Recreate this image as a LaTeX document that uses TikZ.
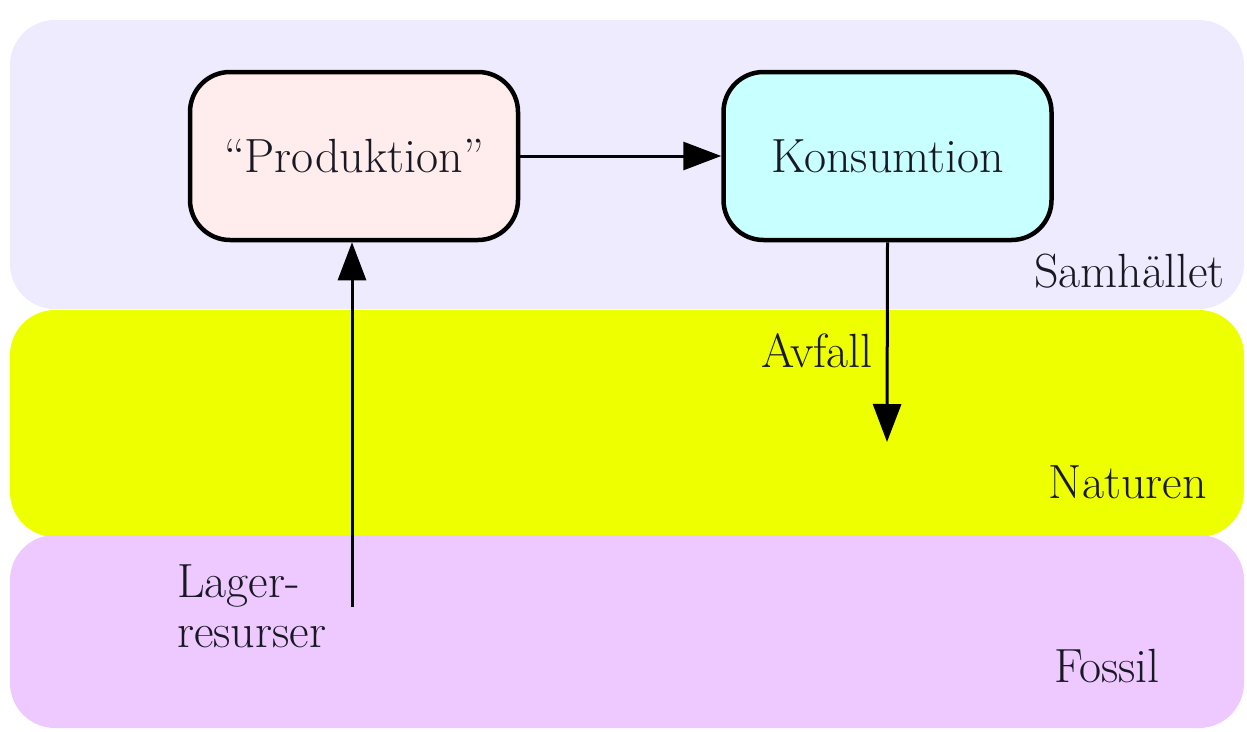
\documentclass[tikz,border=0pt]{standalone}
\usepackage{fontspec}
\usetikzlibrary{arrows.meta}
\definecolor{samcol}{RGB}{238,235,255}
\definecolor{natcol}{RGB}{238,255,0}
\definecolor{foscol}{RGB}{238,201,255}
\definecolor{prodcol}{RGB}{255,236,236}
\definecolor{konscol}{RGB}{200,255,255}
\definecolor{txtcol}{RGB}{25,25,35}
\tikzset{
  band/.style={rounded corners=45pt},
  procbox/.style={draw=black, line width=4.5pt, rounded corners=40pt, minimum width=328pt, minimum height=168pt, inner sep=0pt, font=\fontsize{48}{56}\selectfont, text=txtcol},
  lbl/.style={inner sep=0pt, font=\fontsize{48}{56}\selectfont, text=txtcol},
  arr/.style={line width=3pt, -{Triangle[length=38pt,width=28pt]}}
}
\begin{document}
\begin{tikzpicture}[x=1pt,y=-1pt]
\useasboundingbox (0,0) rectangle (1247,731);
% bands
\fill[samcol, band] (10,20) rectangle (1244,309);
\fill[natcol, band] (10,310) rectangle (1244,537);
\fill[foscol, band] (10,535) rectangle (1244,728);
% boxes
\node[procbox, fill=prodcol] (prod) at (354,156) {“Produktion”};
\node[procbox, fill=konscol] (kons) at (887.5,156) {Konsumtion};
% labels
\node[lbl, anchor=base east] (sam) at (1225,287) {Samhället};
\node[lbl, anchor=base east] (avf) at (873,367) {Avfall};
\node[lbl, anchor=base east] (nat) at (1207,498) {Naturen};
\node[lbl, anchor=base east] (fos) at (1160,682) {Fossil};
\node[lbl, anchor=base west] (lag1) at (177,597) {Lager-};
\node[lbl, anchor=base west] (lag2) at (177,647) {resurser};
% connectors
\coordinate (lagbot) at (352,607);
\coordinate (avend) at (887,442);
\draw[arr] (prod.east) -- (kons.west);
\draw[arr] (lagbot) -- (lagbot |- prod.south);
\draw[arr] (kons.south) -- (avend);
\end{tikzpicture}
\end{document}
